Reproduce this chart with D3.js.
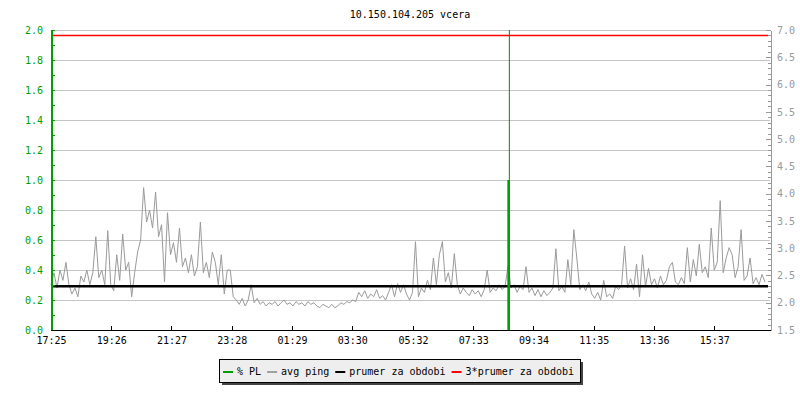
<!DOCTYPE html>
<html>
<head>
<meta charset="utf-8">
<title>10.150.104.205 vcera</title>
<style>
body { margin: 0; background: #fff; }
svg { display: block; font-family: "DejaVu Sans Mono", monospace; font-size: 10px; }
.axis path, .axis line { shape-rendering: crispEdges; }
</style>
<script src="https://cdn.jsdelivr.net/npm/d3@7"></script>
</head>
<body>
<script>
var width = 800, height = 400;
var title = "10.150.104.205 vcera";

// casova osa: minuty od 17:25, 24 h
var spanMinutes = 1440;
var tickMinutes = [0, 121, 242, 363, 484, 605, 727, 848, 969, 1090, 1211, 1332];
var tickLabels = ["17:25", "19:26", "21:27", "23:28", "01:29", "03:30", "05:32", "07:33", "09:34", "11:35", "13:36", "15:37"];

// avg ping [ms], vzorek kazdych 6 minut
var stepMinutes = 6;
var avgPing = [
	2.33,2.55,2.27,2.60,2.41,2.74,2.33,2.16,2.27,2.11,
	2.49,2.38,2.60,2.33,2.55,3.21,2.46,2.60,2.33,3.32,
	2.33,2.22,2.88,2.41,3.26,2.60,2.74,2.11,2.55,2.93,
	3.15,4.11,3.48,3.70,3.37,4.03,3.21,3.43,2.38,3.65,
	2.88,3.10,2.74,3.37,2.66,2.82,2.55,2.88,2.49,2.66,
	3.48,2.55,2.74,2.46,2.93,2.74,2.33,2.88,2.16,2.60,
	2.60,2.11,2.05,1.97,2.08,1.94,2.05,2.33,2.00,2.08,
	1.97,2.02,1.94,2.00,1.97,2.02,1.94,2.00,2.05,1.97,
	2.00,1.94,2.02,1.97,2.00,1.94,2.02,1.97,2.00,1.94,
	1.91,1.97,1.94,1.91,1.97,1.91,1.94,2.00,1.97,2.02,
	2.00,2.05,2.02,2.19,2.11,2.22,2.08,2.16,2.11,2.24,
	2.08,2.13,2.05,2.19,2.33,2.11,2.35,2.19,2.33,2.16,
	2.05,2.19,3.12,2.11,2.27,2.19,2.41,2.24,2.82,2.33,
	2.88,3.12,2.38,2.55,2.27,2.90,2.33,2.16,2.27,2.19,
	2.13,2.24,2.16,2.22,2.11,2.24,2.60,2.19,2.27,2.22,
	2.33,2.24,2.30,2.68,2.27,2.33,2.19,2.30,2.24,2.66,
	2.19,2.27,2.13,2.24,2.11,2.22,2.13,2.19,2.27,2.99,
	2.22,2.30,2.19,2.79,2.33,3.34,2.82,2.24,2.33,2.22,
	2.38,2.16,2.08,2.19,2.05,2.41,2.11,2.16,2.08,2.30,
	2.24,2.33,3.04,2.27,2.44,2.24,2.71,2.11,2.88,2.30,
	2.63,2.33,2.44,2.27,2.49,2.33,2.41,2.66,2.74,2.38,
	2.33,2.46,2.35,3.01,2.38,2.79,2.49,3.07,2.55,2.66,
	2.46,3.37,2.60,2.74,3.87,2.55,2.82,3.01,2.88,2.46,
	2.66,3.34,2.41,2.49,2.82,2.35,2.46,2.33,2.52,2.38
];
var meanPing = 2.30;

// % PL
var plMinutes = [919];
var plValues = [1.0];
var outageMinutes = [920.5];

var legendLabels = ["% PL", "avg ping", "prumer za obdobi", "3*prumer za obdobi"];
var legendColors = ["#00a000", "#a0a0a0", "#000000", "#ff0000"];

var pLeft = 51, pRight = 770, pTop = 30, pBottom = 330;
var green = "#00a000", grey = "#999999", gridColor = "#c4c4c4";

var svg = d3.select("body").append("svg")
	.attr("width", width)
	.attr("height", height);

var x = d3.scaleLinear().domain([0, spanMinutes]).range([pLeft, 768]);
var yL = d3.scaleLinear().domain([0, 2]).range([pBottom, pTop]);
var yR = d3.scaleLinear().domain([1.5, 7]).range([pBottom, pTop]);

// titulek
svg.append("text")
	.attr("x", 410).attr("y", 18)
	.attr("text-anchor", "middle")
	.attr("fill", "#000")
	.text(title);

// mrizka
svg.append("g").selectAll("line")
	.data(d3.range(1, 11).map(function(i) { return i * 0.2; }))
	.enter().append("line")
	.attr("x1", pLeft).attr("x2", pRight)
	.attr("y1", function(d) { return Math.round(yL(d)) + 0.5; })
	.attr("y2", function(d) { return Math.round(yL(d)) + 0.5; })
	.attr("stroke", gridColor)
	.attr("stroke-width", 1);

// 3*prumer
svg.append("line")
	.attr("x1", pLeft).attr("x2", 768)
	.attr("y1", yR(3 * meanPing)).attr("y2", yR(3 * meanPing))
	.attr("stroke", "#ff0000").attr("stroke-width", 1.5);

// avg ping
var line = d3.line()
	.x(function(d, i) { return x(i * stepMinutes); })
	.y(function(d) { return yR(d); });
svg.append("path")
	.datum(avgPing)
	.attr("d", line)
	.attr("fill", "none")
	.attr("stroke", "#9a9a9a")
	.attr("stroke-width", 1);

// prumer
svg.append("line")
	.attr("x1", pLeft).attr("x2", 768)
	.attr("y1", yR(meanPing)).attr("y2", yR(meanPing))
	.attr("stroke", "#000").attr("stroke-width", 2.5);

// vypadek
svg.append("g").selectAll("line")
	.data(outageMinutes)
	.enter().append("line")
	.attr("x1", function(d) { return x(d); }).attr("x2", function(d) { return x(d); })
	.attr("y1", pTop).attr("y2", pBottom)
	.attr("stroke", "#008800").attr("stroke-width", 1);

// % PL
svg.append("g").selectAll("line")
	.data(plValues)
	.enter().append("line")
	.attr("x1", function(d, i) { return x(plMinutes[i]); })
	.attr("x2", function(d, i) { return x(plMinutes[i]); })
	.attr("y1", pBottom).attr("y2", function(d) { return yL(d); })
	.attr("stroke", green).attr("stroke-width", 2.5);

// leva osa
var gl = svg.append("g").attr("class", "axis")
	.attr("transform", "translate(" + (pLeft + 0.5) + ",0)");
gl.call(d3.axisRight(yL).tickValues(d3.range(0, 21).map(function(i) { return i / 10; }))
	.tickSize(3).tickSizeOuter(0).tickFormat(""));
gl.selectAll("path, line").attr("stroke", green);
var glLabels = svg.append("g").attr("class", "axis")
	.attr("transform", "translate(" + pLeft + ",0)")
	.call(d3.axisLeft(yL).tickValues(d3.range(0, 11).map(function(i) { return i / 5; }))
		.tickSize(0).tickPadding(8).tickFormat(d3.format(".1f")));
glLabels.select(".domain").remove();
glLabels.selectAll("text").attr("fill", green);

// prava osa
var gr = svg.append("g").attr("class", "axis")
	.attr("transform", "translate(" + (pRight + 0.5) + ",0)");
gr.call(d3.axisLeft(yR).tickValues(d3.range(15, 71).map(function(i) { return i / 10; }))
	.tickSize(3).tickSizeOuter(0).tickFormat(""));
gr.selectAll(".tick line").filter(function(d) { return Math.abs(d * 2 - Math.round(d * 2)) < 1e-6; })
	.attr("x2", -5);
gr.selectAll("path, line").attr("stroke", grey);
var grLabels = svg.append("g").attr("class", "axis")
	.attr("transform", "translate(" + pRight + ",0)")
	.call(d3.axisRight(yR).tickValues(d3.range(3, 15).map(function(i) { return i / 2; }))
		.tickSize(0).tickPadding(7).tickFormat(d3.format(".1f")));
grLabels.select(".domain").remove();
grLabels.selectAll("text").attr("fill", grey);

// casova osa
var gb = svg.append("g").attr("class", "axis")
	.attr("transform", "translate(0," + (pBottom + 0.5) + ")");
gb.call(d3.axisTop(x).tickValues(tickMinutes).tickSize(5).tickSizeOuter(0).tickFormat(""));
gb.select(".domain").remove();
gb.selectAll("line").attr("stroke", "#000");
gb.append("line")
	.attr("x1", pLeft).attr("x2", pRight + 1)
	.attr("stroke", "#000");
var gbLabels = svg.append("g")
	.attr("transform", "translate(0," + pBottom + ")")
	.call(d3.axisBottom(x).tickValues(tickMinutes).tickSize(0).tickPadding(7)
		.tickFormat(function(d, i) { return tickLabels[i]; }));
gbLabels.select(".domain").remove();
gbLabels.selectAll("text").attr("fill", "#000");
// leva osa pres vse
svg.append("line")
	.attr("x1", pLeft + 0.5).attr("x2", pLeft + 0.5)
	.attr("y1", pTop).attr("y2", pBottom)
	.attr("stroke", green);

svg.selectAll("g text").style("font-family", "\"DejaVu Sans Mono\", monospace").style("font-size", "10px");

// legenda
var lg = svg.append("g");
lg.append("rect")
	.attr("x", 222).attr("y", 362).attr("width", 361).attr("height", 23)
	.attr("fill", "#444");
lg.append("rect")
	.attr("x", 219.5).attr("y", 359.5).attr("width", 361).attr("height", 23)
	.attr("fill", "#eeeeee").attr("stroke", "#000");
var lx = 223;
legendLabels.forEach(function(label, i) {
	lg.append("line")
		.attr("x1", lx).attr("x2", lx + 10)
		.attr("y1", 372).attr("y2", 372)
		.attr("stroke", legendColors[i]).attr("stroke-width", 2);
	var t = lg.append("text")
		.attr("x", lx + 14).attr("y", 375)
		.attr("fill", "#000")
		.text(label);
	lx += 14 + t.node().getComputedTextLength() + 6;
});
</script>
</body>
</html>
